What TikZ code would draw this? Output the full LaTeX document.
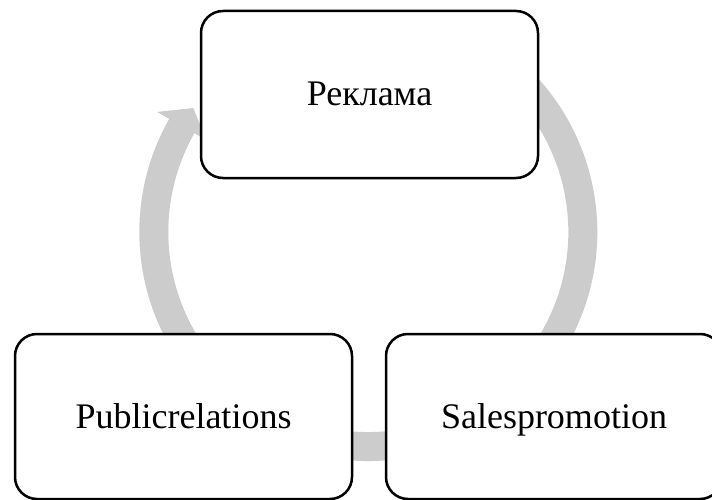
\documentclass[tikz,border=0pt]{standalone}
\usepackage{fontspec}
\setmainfont{Liberation Serif}
\definecolor{ringgray}{HTML}{CCCCCC}
\begin{document}
\begin{tikzpicture}[x=1pt,y=1pt,
  cyclebox/.style={draw=black, line width=2.5pt, fill=white, rounded corners=22pt,
    minimum width=337pt, minimum height=167pt, inner sep=0pt,
    text height=23pt, text depth=0pt, font=\fontsize{36}{40}\selectfont},
  ring/.style={draw=ringgray, line width=29pt},
  ringhead/.style={fill=ringgray}]
\useasboundingbox (0,0) rectangle (712,499);
\begin{scope}[shift={(368.3,267)}]
  \draw[ring] (65:214.5) arc[start angle=65, end angle=-210.5, radius=214.5];
  \fill[ringhead] (144.7:214.5) -- (150.4:243) -- (150.4:186) -- cycle;
\end{scope}
\node[cyclebox] (rek) at (369.5,404.5) {Реклама};
\node[cyclebox, minimum height=165pt] (pr) at (183.5,82.5) {Publicrelations};
\node[cyclebox, minimum width=336pt, minimum height=165pt] (sp) at (554,82.5) {Salespromotion};
\end{tikzpicture}
\end{document}
